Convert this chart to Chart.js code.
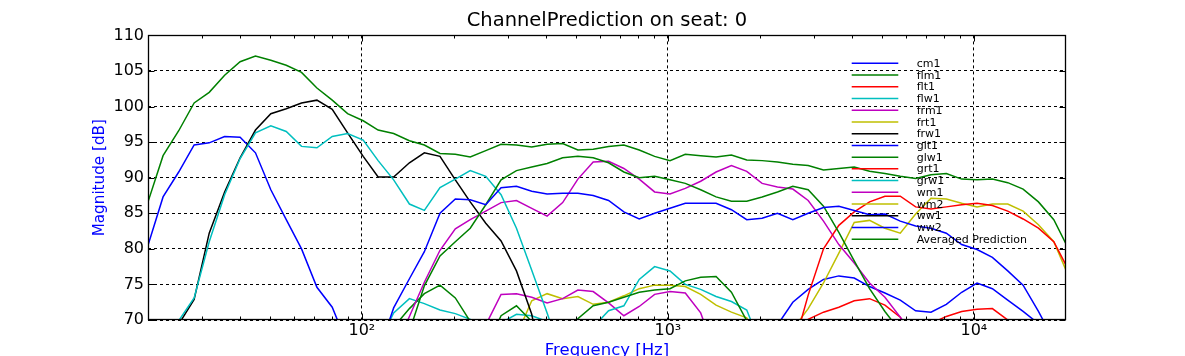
<!DOCTYPE html>
<html>
<head>
<meta charset="utf-8">
<script src="https://cdn.jsdelivr.net/npm/chart.js@4/dist/chart.umd.min.js"></script>
<style>
html,body{margin:0;padding:0;background:#fff;}
canvas{display:block;}
</style>
</head>
<body>
<canvas id="c" width="1185" height="356"></canvas>
<script>
const N = null;

// Frequency points (Hz), roughly 1/6 octave
const freqs = [
  20,22.4,25.2,28.3,31.7,35.6,40,44.9,50.4,56.6,
  63.5,71.3,80,89.8,101,113,127,143,160,180,
  202,226,254,285,320,359,403,453,508,570,
  640,718,806,905,1016,1140,1280,1437,1613,1810,
  2032,2281,2560,2874,3225,3620,4064,4561,5120,5747,
  6451,7241,8127,9123,10240,11494,12902,14482,16255,18246,
  20000
];

const xTickValues = [100, 1000, 10000];
const xTickLabels = ['10²', '10³', '10⁴'];
const minorTickValues = [30,40,50,60,70,80,90,200,300,400,500,600,700,800,900,2000,3000,4000,5000,6000,7000,8000,9000];

const seriesNames = ['cm1','flm1','flt1','flw1','frm1','frt1','frw1','glt1','glw1','grt1','grw1','wm1','wm2','ww1','ww2','Averaged Prediction'];
const seriesColors = ['#0000ff','#008000','#ff0000','#00bfbf','#bf00bf','#bfbf00','#000000','#0000ff','#008000','#ff0000','#00bfbf','#bf00bf','#bfbf00','#000000','#0000ff','#008000'];

const cm1 = [
  N,N,N,N,N,N,N,N,N,N,
  N,N,N,N,N,65.3,71.7,75.8,79.6,85.0,
  87.0,86.9,86.2,88.6,88.8,88.1,87.7,87.8,87.8,87.5,
  86.8,85.2,84.2,85.0,85.7,86.4,86.4,86.4,85.5,84.1,
  84.3,85.0,84.1,85.0,85.8,86.0,85.4,84.8,84.9,83.9,
  83.2,82.9,82.2,80.6,79.9,78.8,76.9,74.9,71.2,67.2,
  N
];
const flm1 = [
  N,N,N,N,N,N,N,N,N,N,
  N,N,N,N,N,N,N,68.4,74.8,79.0,
  81.0,82.9,86.2,89.7,91.0,91.5,92.0,92.8,93.0,92.8,
  92.1,90.8,90.0,90.2,89.7,89.2,88.3,87.3,86.7,86.7,
  87.3,88.0,88.8,88.3,86.0,82.3,78.3,74.4,71.2,68.4,
  N,N,N,N,N,N,N,N,N,N,
  N
];
const flt1 = [
  N,N,N,N,N,N,N,N,N,N,
  N,N,N,N,N,N,N,N,N,N,
  N,N,N,N,N,N,N,N,N,N,
  N,N,N,N,N,N,N,N,N,N,
  N,N,65.8,73.5,80.0,83.3,85.2,86.6,87.4,87.4,
  85.9,85.6,85.9,86.2,86.4,86.1,85.3,84.2,82.9,81.0,
  77.7
];
const flw1 = [
  N,N,69.9,73.1,81.0,87.6,92.7,96.3,97.3,96.5,
  94.4,94.2,95.8,96.2,95.3,92.4,89.7,86.3,85.4,88.6,
  89.8,91.0,90.2,87.6,82.9,77.0,71.0,64.5,N,N,
  N,N,N,N,N,N,N,N,N,N,
  N,N,N,N,N,N,N,N,N,N,
  N,N,N,N,N,N,N,N,N,N,
  N
];
const frm1 = [
  N,N,N,N,N,N,N,N,N,N,
  N,N,N,N,N,N,65.5,70.5,75.3,79.8,
  82.8,84.1,85.3,86.5,86.8,85.7,84.6,86.5,89.8,92.2,
  92.3,91.3,89.8,88.0,87.7,88.5,89.5,90.8,91.7,90.9,
  89.2,88.7,88.4,86.8,83.9,80.6,78.0,75.2,73.2,70.4,
  67.5,N,N,N,N,N,N,N,N,N,
  N
];
const frt1 = [
  N,N,N,N,N,N,N,N,N,N,
  N,N,N,N,N,N,N,N,N,N,
  N,N,N,N,N,N,N,N,N,N,
  N,N,N,N,N,N,N,N,N,N,
  N,N,68.7,71.6,75.2,79.4,83.7,84.0,82.9,82.2,
  84.9,87.1,87.0,86.4,85.9,86.3,86.3,85.3,83.4,81.0,
  77.0
];
const frw1 = [
  N,N,69.4,72.9,82.2,88.0,92.8,96.7,99.0,99.7,
  100.5,100.9,99.6,96.3,93.0,90.1,90.1,92.1,93.5,93.0,
  89.7,86.6,83.6,81.1,76.9,70.8,60.0,N,N,N,
  N,N,N,N,N,N,N,N,N,N,
  N,N,N,N,N,N,N,N,N,N,
  N,N,N,N,N,N,N,N,N,N,
  N
];
const glt1 = [
  N,N,N,N,N,N,N,N,N,N,
  N,N,N,N,N,N,N,N,N,N,
  N,N,N,N,N,N,N,N,N,N,
  N,N,N,N,N,N,N,N,N,N,
  64.0,69.3,72.5,74.3,75.7,76.2,75.9,74.7,73.8,72.8,
  71.3,71.1,72.2,73.9,75.2,74.4,72.8,71.2,69.5,64.0,
  N
];
const glw1 = [
  N,N,N,N,N,N,N,N,N,N,
  N,N,N,N,N,N,69.0,71.6,73.7,74.9,
  73.1,69.8,66.0,70.6,72.0,69.8,64.0,64.0,70.2,72.0,
  72.5,73.2,73.9,74.2,74.4,75.5,76.0,76.1,73.9,69.9,
  64.0,N,N,N,N,N,N,N,N,N,
  N,N,N,N,N,N,N,N,N,N,
  N
];
const grt1 = [
  N,N,N,N,N,N,N,N,N,N,
  N,N,N,N,N,N,N,N,N,N,
  N,N,N,N,N,N,N,N,N,N,
  N,N,N,N,N,N,N,N,N,N,
  N,N,66.0,70.1,71.1,71.8,72.7,73.0,72.1,70.4,
  66.0,69.5,70.5,71.2,71.5,71.6,70.0,64.0,N,N,
  N
];
const grw1 = [
  N,N,N,N,N,N,N,N,N,N,
  N,N,N,N,N,66.5,71.0,73.0,72.3,71.4,
  70.9,70.1,66.0,69.6,70.8,70.6,69.8,65.0,66.0,69.0,
  71.3,72.0,75.7,77.5,76.9,75.0,74.3,73.3,72.6,71.4,
  66.0,N,N,N,N,N,N,N,N,N,
  N,N,N,N,N,N,N,N,N,N,
  N
];
const wm1 = [
  N,N,N,N,N,N,N,N,N,N,
  N,N,N,N,N,N,N,N,N,N,
  N,64.0,69.3,73.6,73.7,73.2,72.4,73.0,74.2,74.0,
  72.4,70.6,71.9,73.6,74.0,73.8,71.0,65.0,N,N,
  N,N,N,N,N,N,N,N,N,N,
  N,N,N,N,N,N,N,N,N,N,
  N
];
const wm2 = [
  N,N,N,N,N,N,N,N,N,N,
  N,N,N,N,N,N,N,N,N,N,
  N,N,N,N,67.8,72.7,73.7,73.0,73.3,72.2,
  72.5,73.4,74.4,74.9,74.9,74.7,73.6,72.1,71.1,70.3,
  66.0,N,N,N,N,N,N,N,N,N,
  N,N,N,N,N,N,N,N,N,N,
  N
];
const ww1 = [
  N,N,N,N,N,N,N,N,N,N,
  N,N,N,N,N,N,N,N,N,N,
  N,N,N,N,N,N,N,N,N,N,
  N,N,N,N,N,N,N,N,N,N,
  N,N,N,N,N,N,N,N,N,N,
  N,N,N,N,N,N,N,N,N,N,
  N
];
const ww2 = [
  80.5,87.3,90.8,94.6,94.9,95.8,95.7,93.5,88.3,84.1,
  80.0,74.6,71.8,66.5,N,N,N,N,N,N,
  N,N,N,N,N,N,N,N,N,N,
  N,N,N,N,N,N,N,N,N,N,
  N,N,N,N,N,N,N,N,N,N,
  N,N,N,N,N,N,N,N,N,N,
  N
];
const averaged = [
  86.6,93.1,96.6,100.5,102.0,104.4,106.3,107.1,106.5,105.8,
  104.8,102.6,100.9,99.0,98.0,96.7,96.2,95.2,94.6,93.4,
  93.3,92.9,93.8,94.7,94.6,94.3,94.7,94.8,93.9,94.0,
  94.4,94.6,93.9,93.0,92.4,93.3,93.1,92.9,93.2,92.5,
  92.4,92.2,91.9,91.7,91.1,91.3,91.5,90.9,90.6,90.2,
  89.9,90.4,90.6,89.8,89.7,89.8,89.3,88.4,86.6,84.1,
  80.7
];

const seriesValues = [cm1, flm1, flt1, flw1, frm1, frt1, frw1, glt1, glw1, grt1, grw1, wm1, wm2, ww1, ww2, averaged];

Chart.defaults.font.family = '"DejaVu Sans", "Bitstream Vera Sans", sans-serif';
Chart.defaults.color = '#000';

const framePlugin = {
  id: 'mplFrame',
  afterDatasetsDraw(chart) {
    const {ctx, chartArea: a, scales} = chart;
    const xs = scales.x, ys = scales.y;
    ctx.save();
    ctx.strokeStyle = '#000';
    ctx.lineWidth = 1;
    ctx.beginPath();
    const L = Math.round(a.left) + 0.5, R = Math.round(a.right) - 0.5;
    const T = Math.round(a.top) + 0.5, B = Math.round(a.bottom) - 0.5;
    minorTickValues.forEach(v => {
      const x = Math.round(xs.getPixelForValue(v)) + 0.5;
      ctx.moveTo(x, B); ctx.lineTo(x, B - 3);
      ctx.moveTo(x, T); ctx.lineTo(x, T + 3);
    });
    xTickValues.forEach(v => {
      const x = Math.round(xs.getPixelForValue(v)) + 0.5;
      ctx.moveTo(x, B); ctx.lineTo(x, B - 6);
      ctx.moveTo(x, T); ctx.lineTo(x, T + 6);
    });
    ys.ticks.forEach(t => {
      const y = Math.round(ys.getPixelForValue(t.value)) + 0.5;
      ctx.moveTo(L, y); ctx.lineTo(L + 6, y);
      ctx.moveTo(R, y); ctx.lineTo(R - 6, y);
    });
    ctx.stroke();
    ctx.lineWidth = 1.3;
    ctx.strokeRect(L, T, R - L, B - T);
    ctx.restore();
  }
};

const legendPlugin = {
  id: 'mplLegend',
  afterDatasetsDraw(chart) {
    const {ctx, chartArea: a} = chart;
    ctx.save();
    ctx.font = '11px "DejaVu Sans"';
    ctx.textBaseline = 'alphabetic';
    ctx.textAlign = 'left';
    chart.data.datasets.forEach((ds, i) => {
      const y = a.top + 27.9 + i * 11.73;
      ctx.strokeStyle = ds.borderColor;
      ctx.lineWidth = 1.5;
      ctx.beginPath();
      ctx.moveTo(a.right - 214.3, y);
      ctx.lineTo(a.right - 167.7, y);
      ctx.stroke();
      ctx.fillStyle = '#000';
      ctx.fillText(ds.label, a.right - 149.3, y + 3.6);
    });
    ctx.restore();
  }
};

new Chart(document.getElementById('c'), {
  type: 'line',
  data: {
    labels: freqs,
    datasets: seriesNames.map((name, i) => ({
      label: name,
      data: seriesValues[i],
      borderColor: seriesColors[i],
      backgroundColor: seriesColors[i],
      borderWidth: 1.5,
      pointRadius: 0,
      pointHoverRadius: 0,
      tension: 0,
      fill: false,
      spanGaps: false,
      clip: 0
    }))
  },
  options: {
    responsive: false,
    devicePixelRatio: 1,
    animation: false,
    events: [],
    layout: { padding: { left: 88, right: 119, top: 0, bottom: 0 } },
    plugins: {
      legend: { display: false },
      tooltip: { enabled: false },
      title: {
        display: true,
        text: 'ChannelPrediction on seat: 0',
        color: '#000',
        fullSize: false,
        font: { size: 19.5, weight: 'normal' },
        padding: { top: 9.5, bottom: 2.5 }
      }
    },
    scales: {
      x: {
        type: 'logarithmic',
        min: 20,
        max: 20000,
        afterBuildTicks: (scale) => { scale.ticks = xTickValues.map(v => ({ value: v })); },
        afterFit: (scale) => { scale.height = 36; },
        ticks: {
          autoSkip: false,
          maxRotation: 0,
          minRotation: 0,
          padding: 1,
          color: '#000',
          font: { size: 16 },
          callback: (v) => { const i = xTickValues.indexOf(v); return i >= 0 ? xTickLabels[i] : ''; }
        },
        grid: { color: '#000', lineWidth: 1, drawTicks: false },
        border: { display: false, dash: [3, 3] },
        title: {
          display: true,
          text: 'Frequency [Hz]',
          color: '#0000ff',
          font: { size: 16.5, lineHeight: 0.7 },
          padding: { top: 0, bottom: 0 }
        }
      },
      y: {
        type: 'linear',
        min: 70,
        max: 110,
        afterFit: (scale) => { scale.width = 60; },
        ticks: { stepSize: 5, padding: 4, color: '#000', font: { size: 16 } },
        grid: { color: '#000', lineWidth: 1, drawTicks: false },
        border: { display: false, dash: [3, 3] },
        title: {
          display: true,
          text: 'Magnitude [dB]',
          color: '#0000ff',
          font: { size: 15.2 },
          padding: { top: 3, bottom: 0 }
        }
      }
    }
  },
  plugins: [framePlugin, legendPlugin]
});
</script>
</body>
</html>
